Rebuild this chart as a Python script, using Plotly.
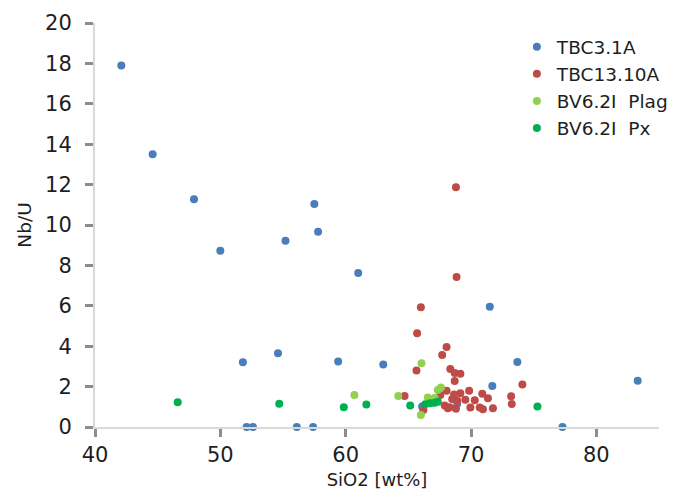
import plotly.graph_objects as go

# SiO2 [wt%] and Nb/U for each sample group
tbc31a_sio2 = [42.1, 44.6, 47.9, 50.0, 51.8, 54.6, 55.2, 57.5, 57.8, 59.4,
               52.1, 52.6, 56.1, 57.4, 61.0, 63.0, 71.5, 73.7, 71.7, 66.1,
               68.9, 77.3, 83.3]
tbc31a_nbu = [17.9, 13.5, 11.27, 8.72, 3.2, 3.65, 9.22, 11.04, 9.67, 3.24,
              0.0, 0.0, 0.0, 0.0, 7.62, 3.09, 5.95, 3.22, 2.03, 1.02,
              1.15, 0.0, 2.29]

tbc1310a_sio2 = [68.8, 68.85, 66.0, 65.7, 68.05, 67.7, 68.35, 65.65, 68.7, 69.15,
                 68.7, 74.1, 64.7, 68.05, 67.55, 69.15, 69.85, 70.9, 71.35, 73.2,
                 73.25, 68.5, 68.9, 69.55, 70.3, 68.15, 68.8, 69.95, 70.7, 70.95,
                 71.75, 66.2, 67.9, 68.3, 68.65]
tbc1310a_nbu = [11.87, 7.42, 5.93, 4.64, 3.96, 3.56, 2.87, 2.8, 2.67, 2.63,
                2.28, 2.1, 1.54, 1.79, 1.58, 1.67, 1.8, 1.64, 1.42, 1.52,
                1.14, 1.38, 1.3, 1.35, 1.32, 0.93, 0.9, 0.96, 0.96, 0.88,
                0.93, 0.84, 1.07, 0.98, 1.61]

bv62i_plag_sio2 = [60.7, 64.2, 66.05, 67.6, 67.35, 66.55, 67.1, 66.0]
bv62i_plag_nbu = [1.58, 1.53, 3.16, 1.96, 1.83, 1.46, 1.43, 0.6]

bv62i_px_sio2 = [46.6, 54.7, 59.85, 61.65, 65.15, 66.35, 66.75, 67.1, 67.35, 75.3]
bv62i_px_nbu = [1.22, 1.15, 0.98, 1.12, 1.06, 1.13, 1.17, 1.2, 1.25, 1.02]

series = [
    ("TBC3.1A", tbc31a_sio2, tbc31a_nbu, "#4A7EBB"),
    ("TBC13.10A", tbc1310a_sio2, tbc1310a_nbu, "#BE4B48"),
    ("BV6.2I  Plag", bv62i_plag_sio2, bv62i_plag_nbu, "#92D050"),
    ("BV6.2I  Px", bv62i_px_sio2, bv62i_px_nbu, "#00B050"),
]

fig = go.Figure()
for name, xs, ys, color in series:
    fig.add_trace(go.Scatter(
        x=xs, y=ys, mode="markers", name=name,
        marker=dict(size=8, color=color, line=dict(width=0)),
        cliponaxis=False,
    ))

font_family = "DejaVu Sans, sans-serif"
text_color = "#1E1E1E"
axis_common = dict(
    showgrid=False, zeroline=False, automargin=False,
    showline=True, linecolor="#D9D9D9", linewidth=2,
    ticks="outside", ticklen=8, tickwidth=3, tickcolor="#8C8C8C",
    tickfont=dict(size=21, color=text_color, family=font_family),
)

fig.update_layout(
    width=685, height=490,
    margin=dict(l=95, r=26, t=23, b=63),
    paper_bgcolor="white", plot_bgcolor="white",
    font=dict(family=font_family, color=text_color),
    xaxis=dict(range=[40, 85], tick0=40, dtick=10,
               title=dict(text="SiO2 [wt%]", font=dict(size=18), standoff=10),
               **axis_common),
    yaxis=dict(range=[0, 20], tick0=0, dtick=2, ticklabelstandoff=9,
               title=dict(text="Nb/U", font=dict(size=18.5), standoff=9),
               **axis_common),
    legend=dict(x=0.748, y=0.987, xanchor="left", yanchor="top",
                font=dict(size=18.5, color=text_color),
                bgcolor="rgba(255,255,255,0)", itemwidth=30,
                tracegroupgap=0),
    showlegend=True,
)

fig.write_html("out.html")
